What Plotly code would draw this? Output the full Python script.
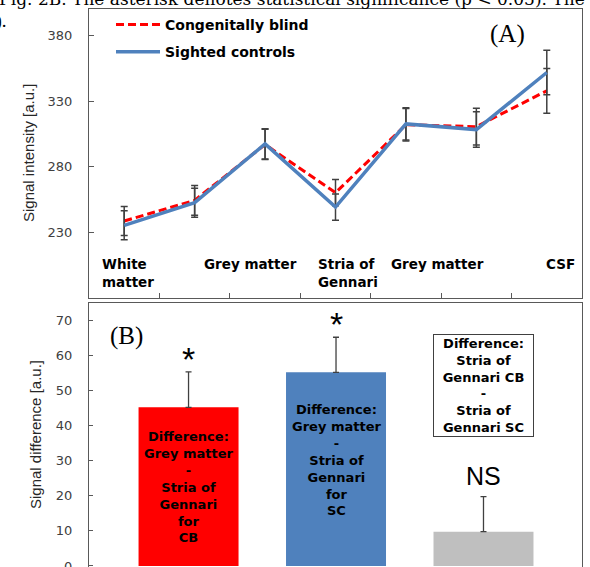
import plotly.graph_objects as go

# ---------------- data: panel A ----------------
points = [0, 1, 2, 3, 4, 5, 6]
cb_values = [238.8, 254.5, 297.0, 260.3, 312.0, 310.5, 337.8]
cb_errors = [11, 11.3, 11.5, 10, 12.3, 14, 17]
sc_values = [235.5, 252.7, 297.4, 249.4, 312.6, 308.3, 351.7]
sc_errors = [11, 11, 11.5, 10, 12.3, 13.5, 17]
region_labels = ["White<br>matter", "Grey matter", "Stria of<br>Gennari", "Grey matter", "CSF"]
region_label_x = [-0.344, 1.80, 2.72, 4.455, 6.19]
region_label_align = ["left", "center", "left", "center", "center"]
a_ticks = [230, 280, 330, 380]

# ---------------- data: panel B ----------------
bar_x = [0, 1, 2]
bar_values = [45.3, 55.3, 9.8]
bar_errors = [10.1, 10.0, 10.0]
bar_colors = ["#FF0000", "#4F81BD", "#BFBFBF"]
bar_texts = [
    "Difference:<br>Grey matter<br>-<br>Stria of<br>Gennari<br>for<br>CB",
    "Difference:<br>Grey matter<br>-<br>Stria of<br>Gennari<br>for<br>SC",
]
bar_text_y = [22.5, 30.2]
box_text = "Difference:<br>Stria of<br>Gennari CB<br>-<br>Stria of<br>Gennari SC"
box_text_y = 51.4
marks = ["*", "*", "NS"]
mark_y = [59.2, 69.0, 25.8]
b_ticks = [0, 10, 20, 30, 40, 50, 60, 70]

W, H = 590, 567
FRAME = "#595959"
TICKC = "#404040"
SANS = "DejaVu Sans"
ERRC = "#404040"

fig = go.Figure()

fig.add_trace(go.Scatter(
    x=points, y=cb_values, mode="lines", name="Congenitally blind",
    line=dict(color="#FF0000", width=3, dash="8px,4px"),
    error_y=dict(type="data", array=cb_errors, color=ERRC, thickness=1.5, width=3.5),
    xaxis="x", yaxis="y", legendgroup="a",
))
fig.add_trace(go.Scatter(
    x=points, y=sc_values, mode="lines", name="Sighted controls",
    line=dict(color="#4F81BD", width=3.5),
    error_y=dict(type="data", array=sc_errors, color=ERRC, thickness=1.5, width=3.5),
    xaxis="x", yaxis="y", legendgroup="b",
))

fig.add_trace(go.Bar(
    x=bar_x, y=bar_values, width=0.678, showlegend=False,
    marker=dict(color=bar_colors, line=dict(width=0)),
    error_y=dict(type="data", array=bar_errors, arrayminus=[0, 0, 0], symmetric=False,
                 color=ERRC, thickness=1.3, width=3),
    xaxis="x2", yaxis="y2",
))

x_dom = [89 / W, 582 / W]
axis_common = dict(showline=True, mirror=True, linecolor=FRAME, linewidth=1,
                   showgrid=False, zeroline=False, automargin=False)

annotations = []
# category labels panel A
for txt, xx, al in zip(region_labels, region_label_x, region_label_align):
    annotations.append(dict(
        x=xx, y=214, xref="x", yref="y", text=txt, showarrow=False,
        xanchor="left" if al == "left" else "center", yanchor="top", align=al,
        font=dict(family=SANS, size=13.5, color="#000000", weight="bold"),
    ))
# bar texts
for xx, txt, yy in zip(bar_x[:2], bar_texts, bar_text_y):
    annotations.append(dict(
        x=xx, y=yy, xref="x2", yref="y2", text=txt, showarrow=False,
        font=dict(family=SANS, size=13, color="#000000", weight="bold"),
    ))
annotations.append(dict(
    x=bar_x[2], y=box_text_y, xref="x2", yref="y2", text=box_text, showarrow=False,
    font=dict(family=SANS, size=13, color="#000000", weight="bold"),
    width=98, height=100, borderpad=0.5,
    bordercolor="#404040", borderwidth=1, bgcolor="#FFFFFF",
))
# significance marks
for xx, m, yy in zip(bar_x, marks, mark_y):
    annotations.append(dict(
        x=xx, y=yy, xref="x2", yref="y2", text=m, showarrow=False,
        font=dict(family="Liberation Sans", size=34 if m == "*" else 25, color="#000000"),
    ))
# panel letters
center = dict(xanchor="center", yanchor="middle", showarrow=False, xref="paper", yref="paper")
annotations.append(dict(x=507.7 / W, y=1 - 34 / H, text="(A)",
                        font=dict(family="Liberation Serif", size=25, color="#000000"), **center))
annotations.append(dict(x=126 / W, y=1 - 336 / H, text="(B)",
                        font=dict(family="Liberation Serif", size=25, color="#000000"), **center))
# axis titles
annotations.append(dict(x=29 / W, y=1 - 153 / H, text="Signal intensity [a.u.]", textangle=-90,
                        font=dict(family="Liberation Sans", size=15, color="#262626"), **center))
annotations.append(dict(x=35 / W, y=1 - 435 / H, text="Signal difference [a.u.]", textangle=-90,
                        font=dict(family="Liberation Sans", size=15, color="#262626"), **center))
# caption fragments from the page above the figure
annotations.append(dict(x=-3 / W, y=1 + 1 / H, xref="paper", yref="paper", xanchor="left",
                        yanchor="middle",
                        text="Fig. 2B. The asterisk denotes statistical significance (p < 0.05). The",
                        showarrow=False,
                        font=dict(family="DejaVu Serif", size=17, color="#000000")))
annotations.append(dict(x=9 / W, y=1 - 21 / H, xref="paper", yref="paper", xanchor="right",
                        yanchor="middle", text="0).", showarrow=False,
                        font=dict(family="Liberation Serif", size=19, color="#000000")))

fig.update_layout(
    width=W, height=H,
    margin=dict(l=0, r=0, t=0, b=0),
    paper_bgcolor="#FFFFFF", plot_bgcolor="#FFFFFF",
    showlegend=True,
    legend=dict(x=111 / W, y=1 - 9 / H, xanchor="left", yanchor="top",
                bgcolor="rgba(0,0,0,0)", tracegroupgap=6, itemwidth=44,
                font=dict(family=SANS, size=14, color="#000000", weight="bold")),
    xaxis=dict(domain=x_dom, range=[-0.5, 6.5], tickvals=[0.5, 1.5, 2.5, 3.5, 4.5, 5.5],
               ticks="inside", ticklen=5, tickcolor=FRAME, showticklabels=False,
               anchor="y", **axis_common),
    yaxis=dict(domain=[1 - 298.3 / H, 1 - 9 / H], range=[180, 400], tickvals=a_ticks,
               ticks="inside", ticklen=5, tickcolor=FRAME, anchor="x",
               ticklabelstandoff=13, ticklabeloverflow="allow",
               tickfont=dict(family=SANS, size=13, color=TICKC), **axis_common),
    xaxis2=dict(domain=x_dom, range=[-0.675, 2.668], showticklabels=False, ticks="",
                anchor="y2", **axis_common),
    yaxis2=dict(domain=[0, 1 - 303.3 / H], range=[-0.3, 75], tickvals=b_ticks,
                ticks="inside", ticklen=4, tickcolor=FRAME, anchor="x2",
                ticklabelstandoff=13, ticklabeloverflow="allow",
                tickfont=dict(family=SANS, size=13, color=TICKC), **axis_common),
    annotations=annotations,
)

fig.write_html("out.html", config={"displayModeBar": False},
               post_script="document.body.style.margin='0px';")
